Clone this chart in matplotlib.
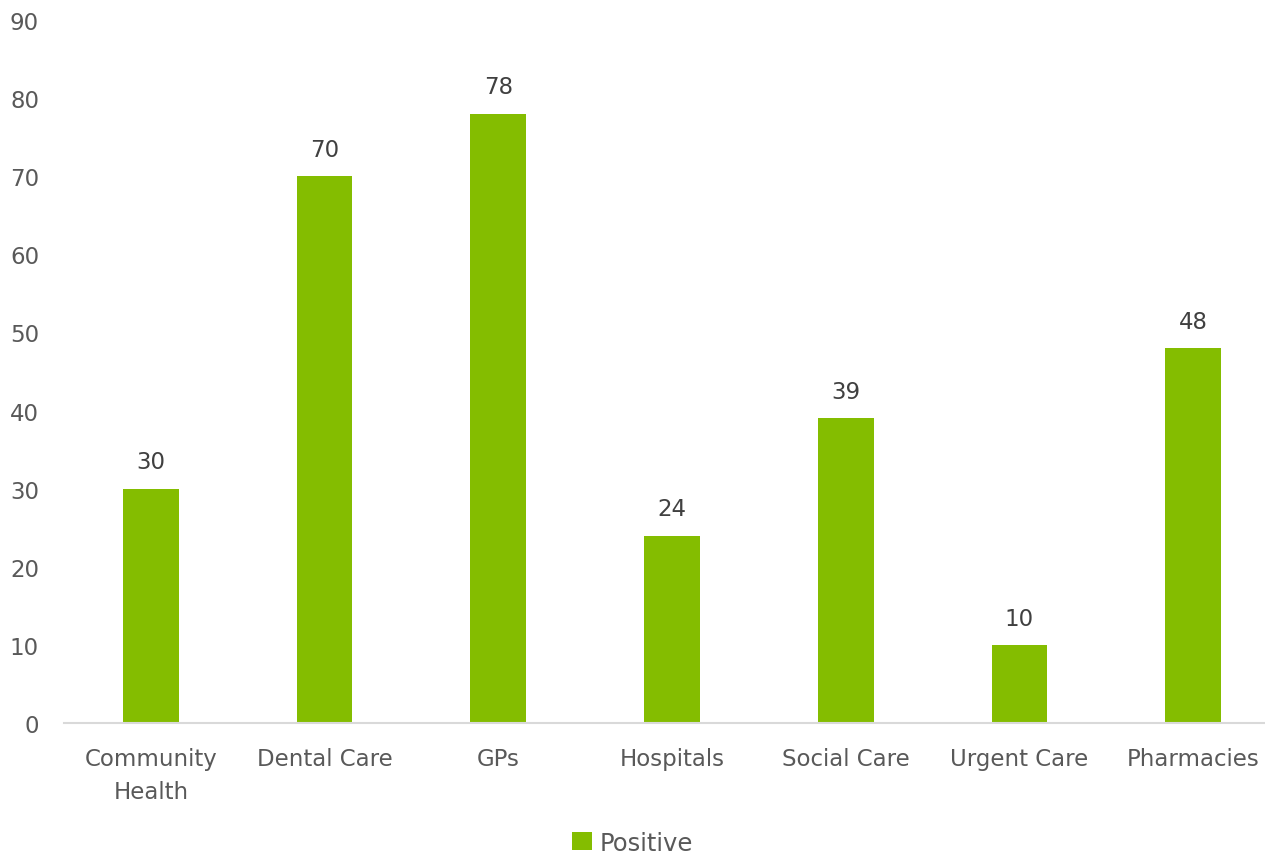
import matplotlib.pyplot as plt
import numpy as np

# data
categories = ['Community\nHealth', 'Dental Care', 'GPs', 'Hospitals',
              'Social Care', 'Urgent Care', 'Pharmacies']
positive = [30, 70, 78, 24, 39, 10, 48]
series_name = 'Positive'

green = '#84BD00'
grey_text = '#595959'

plt.rcParams['font.family'] = ['DejaVu Sans']

fig = plt.figure(figsize=(12.65, 8.62), dpi=100)
ax = fig.add_axes([64 / 1265, 1 - 724 / 862, 1216 / 1265, 703 / 862])

x = np.arange(len(categories))
bars = ax.bar(x, positive, width=0.32, color=green, label=series_name, zorder=2)

# value labels above each bar
for xi, v in zip(x, positive):
    ax.annotate(str(v), (xi, v), xytext=(0, 11), textcoords='offset points',
                ha='center', va='bottom', fontsize=16.5, color='#404040')

ax.set_xlim(-0.5, len(categories) - 0.5)
ax.set_ylim(0, 90)
ax.set_yticks(range(0, 91, 10))
ax.set_xticks(x)
ax.set_xticklabels(categories, fontsize=16.5, color=grey_text, linespacing=1.55)
ax.tick_params(axis='y', length=0, labelsize=16.5, labelcolor=grey_text, pad=18)
ax.tick_params(axis='x', length=0, pad=17)

for side in ['top', 'right', 'left']:
    ax.spines[side].set_visible(False)
ax.spines['bottom'].set_color('#D9D9D9')
ax.spines['bottom'].set_linewidth(1.5)

fig.legend(loc='lower center', bbox_to_anchor=(0.5, -0.018), frameon=False,
           fontsize=17.5, labelcolor=grey_text, handlelength=0.8, handleheight=0.8,
           handletextpad=0.3)

plt.savefig('out.png')
